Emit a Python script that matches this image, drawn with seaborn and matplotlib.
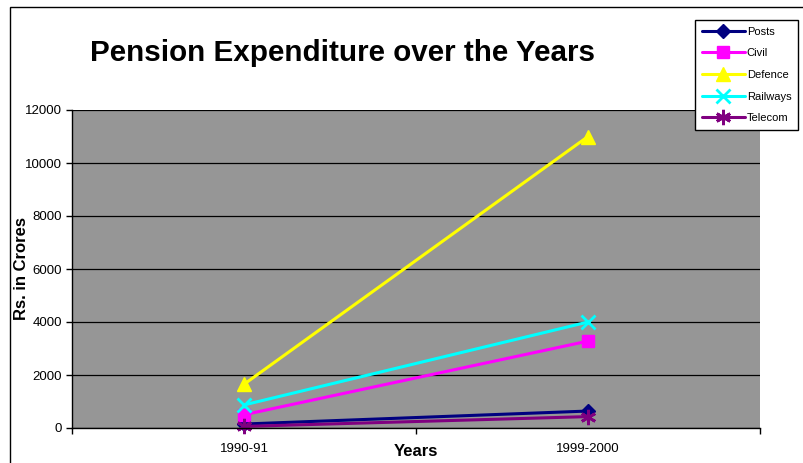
import matplotlib
matplotlib.use("Agg")
import matplotlib.pyplot as plt
import seaborn as sns
import pandas as pd
from matplotlib.patches import Rectangle

years = ["1990-91", "1999-2000"]
posts = [150, 640]
civil = [500, 3280]
defence = [1650, 11000]
railways = [870, 4000]
telecom = [60, 430]

series_names = ["Posts", "Civil", "Defence", "Railways", "Telecom"]
series_values = [posts, civil, defence, railways, telecom]
colors = ["#000080", "#FF00FF", "#FFFF00", "#00FFFF", "#800080"]
markers = ["D", "s", "^", "x", (6, 2, 0)]
marker_sizes = [7, 9, 10, 10, 11]

rows = []
for name, vals in zip(series_names, series_values):
    for i, (yr, v) in enumerate(zip(years, vals)):
        rows.append({"Series": name, "pos": i, "Year": yr, "Value": v})
df = pd.DataFrame(rows)

sns.set_theme(style="white")
plt.rcParams["font.family"] = ["Liberation Sans", "DejaVu Sans"]
plt.rcParams["text.color"] = "black"
plt.rcParams["axes.labelcolor"] = "black"
plt.rcParams["xtick.color"] = "black"
plt.rcParams["ytick.color"] = "black"

fig = plt.figure(figsize=(8.04, 4.63), dpi=100)
ax = fig.add_axes([72 / 804, 1 - 428 / 463, 688 / 804, 318 / 463])
ax.set_facecolor("#969696")

for name, color, mk, ms in zip(series_names, colors, markers, marker_sizes):
    sub = df[df["Series"] == name]
    sns.lineplot(data=sub, x="pos", y="Value", ax=ax, color=color, marker=mk,
                 markersize=ms, markeredgecolor=color, markerfacecolor=color,
                 markeredgewidth=2 if mk in ("x", (6, 2, 0)) else 1,
                 linewidth=2.2, label=name, clip_on=False)

ax.set_xlim(-0.5, 1.5)
ax.set_ylim(0, 12000)
ax.set_yticks(range(0, 12001, 2000))
ax.set_xticks(range(len(years)))
ax.set_xticklabels(years, fontsize=9.5)
ax.set_xticks([-0.5, 0.5, 1.5], minor=True)
ax.tick_params(axis="x", which="major", length=0, pad=11)
ax.tick_params(axis="x", which="minor", length=4, direction="out", color="black", width=1, bottom=True)
ax.tick_params(axis="y", length=4, direction="out", color="black", width=1, left=True, labelsize=9.5, pad=3)

ax.yaxis.grid(True, color="black", linewidth=0.9)
ax.xaxis.grid(False)
ax.set_axisbelow(True)
for side in ("top", "right"):
    ax.spines[side].set_visible(False)
for side in ("left", "bottom"):
    ax.spines[side].set_color("black")
    ax.spines[side].set_linewidth(1)

ax.set_xlabel("")
ax.set_ylabel("")
fig.text(416 / 804, 1 - 451 / 463, "Years", fontsize=12, fontweight="bold",
         ha="center", va="center")
fig.text(22 / 804, 1 - 268 / 463, "Rs. in Crores", fontsize=12, fontweight="bold",
         ha="center", va="center", rotation=90)

fig.text(343 / 804, 1 - 53 / 463, "Pension Expenditure over the Years",
         fontsize=21.3, fontweight="bold", ha="center", va="center")

leg = ax.legend(loc="upper left", bbox_to_anchor=(695 / 804, 1 - 20 / 463),
                bbox_transform=fig.transFigure, frameon=True, fancybox=False,
                fontsize=8, handlelength=3.9, handletextpad=0.15,
                labelspacing=1.05, borderpad=0.6, borderaxespad=0)
leg.get_frame().set_edgecolor("black")
leg.get_frame().set_linewidth(1)
leg.get_frame().set_facecolor("white")
leg.get_frame().set_alpha(1)

fig.patches.append(Rectangle((10 / 804, -0.1), 1.2, (463 - 7) / 463 + 0.1,
                             transform=fig.transFigure, fill=False,
                             edgecolor="black", linewidth=1))

fig.savefig("out.png", dpi=100, facecolor="white")
